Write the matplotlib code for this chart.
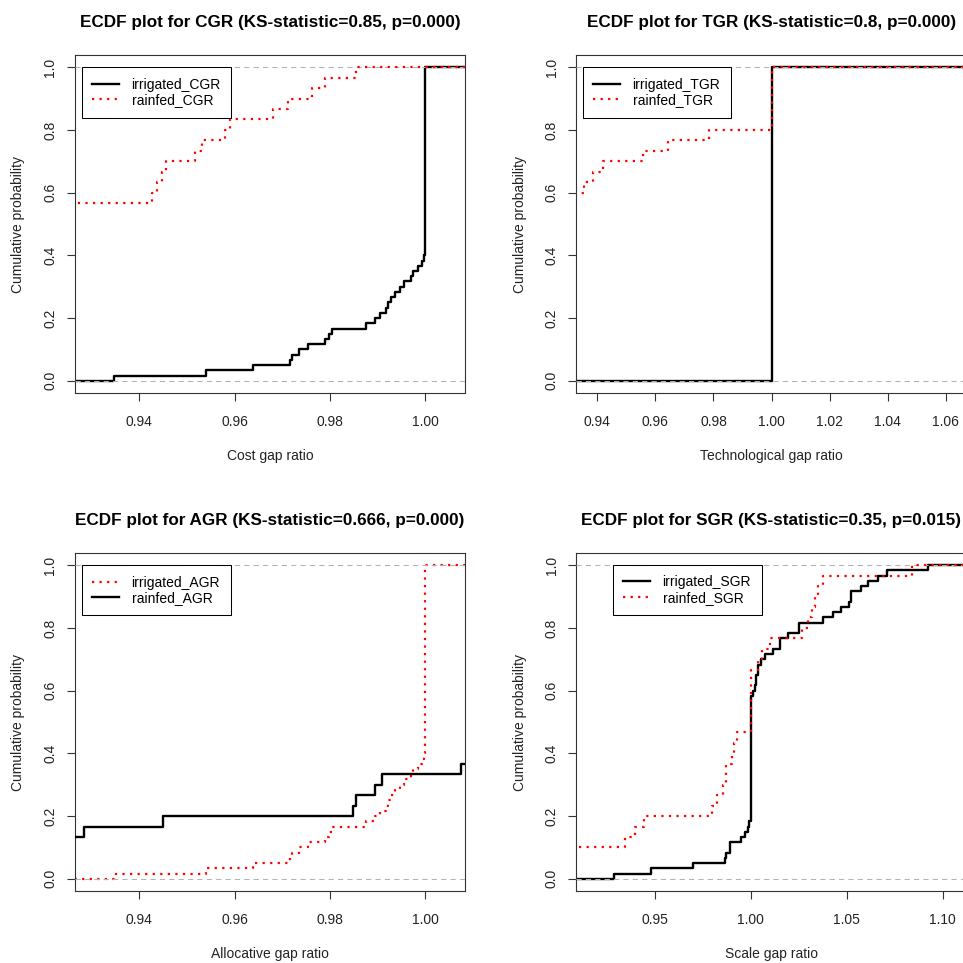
import matplotlib
matplotlib.use("Agg")
import matplotlib.pyplot as plt
import numpy as np

plt.rcParams["font.family"] = ["Liberation Sans", "DejaVu Sans"]

# ---- data (distinct values and how many samples sit at each) ----
# CGR
cgr_irrigated_x = [0.9346, 0.9540, 0.9639, 0.9716, 0.9720, 0.9734, 0.9753, 0.9790, 0.9797,
                   0.9805, 0.9876, 0.9894, 0.9905, 0.9917, 0.9921, 0.9927, 0.9936, 0.9946,
                   0.9956, 0.9970, 0.9975, 0.9984, 0.9994, 0.9998, 1.0000]
cgr_irrigated_n = [1] * 24 + [36]
cgr_rainfed_x = [0.915, 0.9426, 0.9438, 0.9447, 0.9455, 0.9517, 0.9531, 0.9580, 0.9590,
                 0.9681, 0.9713, 0.9762, 0.9790, 0.9855]
cgr_rainfed_n = [17] + [1] * 13

# TGR
tgr_irrigated_x = [1.0]
tgr_irrigated_n = [60]
tgr_rainfed_x = [0.920, 0.9354, 0.9386, 0.9421, 0.9556, 0.9643, 0.9783, 1.0000]
tgr_rainfed_n = [18, 1, 1, 1, 1, 1, 1, 6]

# AGR
agr_irrigated_x = [0.9346, 0.9540, 0.9639, 0.9716, 0.9720, 0.9734, 0.9753, 0.9790, 0.9797,
                   0.9805, 0.9876, 0.9894, 0.9905, 0.9917, 0.9921, 0.9927, 0.9936, 0.9946,
                   0.9956, 0.9970, 0.9975, 0.9984, 0.9994, 0.9998, 1.0000]
agr_irrigated_n = [1] * 24 + [36]
agr_rainfed_x = [0.920, 0.9284, 0.9449, 0.9848, 0.9855, 0.9894, 0.9910, 1.0074, 1.020]
agr_rainfed_n = [4, 1, 1, 1, 1, 1, 1, 1, 19]

# SGR
sgr_irrigated_x = [0.9288, 0.9479, 0.9701, 0.9865, 0.9870, 0.9891, 0.9950, 0.9972, 0.9984,
                   0.9990, 1.0000, 1.0014, 1.0023, 1.0027, 1.0040, 1.0054, 1.0075, 1.0118,
                   1.0153, 1.0196, 1.0253, 1.0375, 1.0430, 1.0469, 1.0510, 1.0521, 1.0575,
                   1.0613, 1.0662, 1.0709, 1.0922]
sgr_irrigated_n = [1, 1, 1, 1, 1, 2, 1, 1, 1, 1, 24, 1, 1, 2, 2, 1, 1, 1, 2, 1, 2,
                   1, 1, 1, 1, 2, 1, 1, 1, 1, 1]
sgr_rainfed_x = [0.900, 0.9345, 0.9397, 0.9444, 0.9797, 0.9823, 0.9857, 0.9871, 0.9905,
                 0.9914, 0.9929, 1.0000, 1.0040, 1.0057, 1.0100, 1.0266, 1.0300, 1.0318,
                 1.0335, 1.0350, 1.0378, 1.0839]
sgr_rainfed_n = [3, 1, 1, 1, 1, 1, 1, 2, 1, 1, 1, 6, 1, 1, 1, 1, 1, 1, 1, 1, 1, 1]

titles = [
    "ECDF plot for CGR (KS-statistic=0.85, p=0.000)",
    "ECDF plot for TGR (KS-statistic=0.8, p=0.000)",
    "ECDF plot for AGR (KS-statistic=0.666, p=0.000)",
    "ECDF plot for SGR (KS-statistic=0.35, p=0.015)",
]
xlabels = ["Cost gap ratio", "Technological gap ratio", "Allocative gap ratio", "Scale gap ratio"]
xticks_list = [
    [0.94, 0.96, 0.98, 1.00],
    [0.94, 0.96, 0.98, 1.00, 1.02, 1.04, 1.06],
    [0.94, 0.96, 0.98, 1.00],
    [0.95, 1.00, 1.05, 1.10],
]
yticks = [0.0, 0.2, 0.4, 0.6, 0.8, 1.0]

FIG_PX = 963.0


def px_rect(left, top, w, h):
    return [left / FIG_PX, 1 - (top + h) / FIG_PX, w / FIG_PX, h / FIG_PX]


def ecdf_steps(knots, counts, lo, hi):
    k = np.asarray(knots, dtype=float)
    c = np.cumsum(counts) / np.sum(counts)
    xs = np.concatenate([[lo], k, [hi]])
    ys = np.concatenate([[0.0], c, [c[-1]]])
    return xs, ys


SOLID = dict(color="black", lw=1.7, ls="-")
DOTTED = dict(color="red", lw=1.6, ls=(0, (1, 2.4)))

panels = [
    dict(rect=(74.7, 54.7), xlim=(0.92645, 1.00839), leg=(0.0179, 0.9628),
         series=[(cgr_irrigated_x, cgr_irrigated_n, "irrigated_CGR", SOLID),
                 (cgr_rainfed_x, cgr_rainfed_n, "rainfed_CGR", DOTTED)]),
    dict(rect=(576.0, 54.7), xlim=(0.93266, 1.0672), leg=(0.0172, 0.9628),
         series=[(tgr_irrigated_x, tgr_irrigated_n, "irrigated_TGR", SOLID),
                 (tgr_rainfed_x, tgr_rainfed_n, "rainfed_TGR", DOTTED)]),
    dict(rect=(74.7, 552.7), xlim=(0.92645, 1.00839), leg=(0.0179, 0.9637),
         series=[(agr_irrigated_x, agr_irrigated_n, "irrigated_AGR", DOTTED),
                 (agr_rainfed_x, agr_rainfed_n, "rainfed_AGR", SOLID)]),
    dict(rect=(576.0, 552.7), xlim=(0.90901, 1.1124), leg=(0.094, 0.9644),
         series=[(sgr_irrigated_x, sgr_irrigated_n, "irrigated_SGR", SOLID),
                 (sgr_rainfed_x, sgr_rainfed_n, "rainfed_SGR", DOTTED)]),
]

fig = plt.figure(figsize=(9.63, 9.63), dpi=100)
fig.patch.set_facecolor("white")

for i, p in enumerate(panels):
    ax = fig.add_axes(px_rect(p["rect"][0], p["rect"][1], 390.6, 338.6))
    lo, hi = p["xlim"][0] - 1.0, p["xlim"][1] + 1.0

    handles = []
    for j, (kx, kn, label, style) in enumerate(p["series"]):
        xs, ys = ecdf_steps(kx, kn, lo, hi)
        (ln,) = ax.step(xs, ys, where="post", label=label, zorder=2 + j * 2, **style)
        handles.append(ln)
        if j == 0:
            # R's ecdf plot adds grey dashed reference lines at 0 and 1
            ax.axhline(0, color="#B3B3B3", lw=0.75, ls=(0, (5, 4)), zorder=3)
            ax.axhline(1, color="#B3B3B3", lw=0.75, ls=(0, (5, 4)), zorder=3)

    ax.set_xlim(*p["xlim"])
    ax.set_ylim(-0.04, 1.04)
    ax.set_xticks(xticks_list[i])
    ax.set_xticklabels([f"{v:.2f}" for v in xticks_list[i]])
    ax.set_yticks(yticks)
    ax.set_yticklabels([f"{v:.1f}" for v in yticks], rotation=90, va="center")

    for sp in ax.spines.values():
        sp.set_color("#333333")
        sp.set_linewidth(0.8)
    ax.tick_params(axis="both", direction="out", length=6.0, width=0.8, color="#333333",
                   labelsize=10, labelcolor="#222222")
    ax.tick_params(axis="x", pad=9.5)
    ax.tick_params(axis="y", pad=6.5)

    ax.set_title(titles[i], fontsize=12.3, fontweight="bold", pad=20)
    ax.set_xlabel(xlabels[i], fontsize=10, color="#222222")
    ax.xaxis.set_label_coords(0.5, -0.1636)
    ax.set_ylabel("Cumulative probability", fontsize=10, color="#222222")
    ax.yaxis.set_label_coords(-0.126, 0.5)

    leg = ax.legend(handles=handles, loc="upper left", bbox_to_anchor=p["leg"],
                    borderaxespad=0, fontsize=10, handlelength=1.92, handletextpad=0.91,
                    borderpad=0.76, labelspacing=0.1, fancybox=False, framealpha=1,
                    edgecolor="black")
    leg.get_frame().set_linewidth(0.75)
    leg.set_zorder(10)

fig.savefig("out.png", dpi=100)
